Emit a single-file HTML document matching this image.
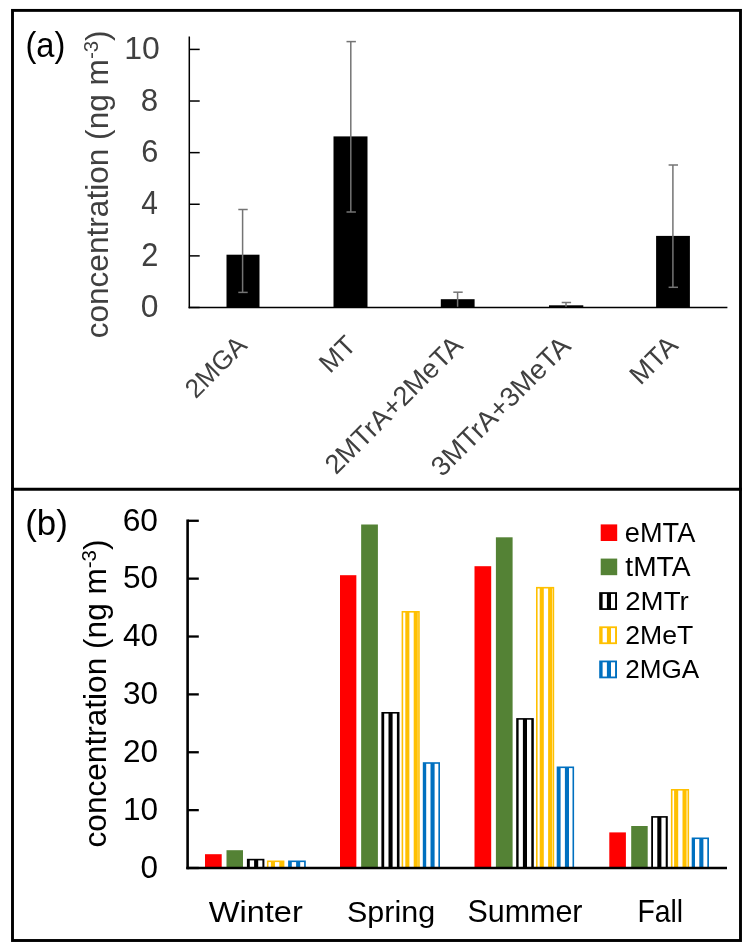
<!DOCTYPE html>
<html><head><meta charset="utf-8"><style>
html,body{margin:0;padding:0;background:#fff;width:750px;height:952px;overflow:hidden}
svg{display:block;will-change:transform}
text{font-family:"Liberation Sans", sans-serif}
</style></head><body>
<svg width="750" height="952" viewBox="0 0 750 952">
<rect width="750" height="952" fill="#fff"/>

<rect x="12.5" y="10.4" width="728" height="930.1" fill="none" stroke="#000" stroke-width="2.9"/>
<line x1="11" y1="489.2" x2="742" y2="489.2" stroke="#000" stroke-width="3"/>
<rect x="226.5" y="254.7" width="33.00" height="52.80" fill="#000"/>
<rect x="333.5" y="136.4" width="34.00" height="171.10" fill="#000"/>
<rect x="440.8" y="299.2" width="33.80" height="8.30" fill="#000"/>
<rect x="549.0" y="305.3" width="34.30" height="2.20" fill="#000"/>
<rect x="656.1" y="235.9" width="33.80" height="71.60" fill="#000"/>
<line x1="242.6" y1="209.5" x2="242.6" y2="292.4" stroke="#747474" stroke-width="1.5"/>
<line x1="238.3" y1="209.5" x2="247.7" y2="209.5" stroke="#747474" stroke-width="1.5"/>
<line x1="238.3" y1="292.4" x2="247.7" y2="292.4" stroke="#747474" stroke-width="1.5"/>
<line x1="350.8" y1="41.6" x2="350.8" y2="212.0" stroke="#747474" stroke-width="1.5"/>
<line x1="346.5" y1="41.6" x2="355.9" y2="41.6" stroke="#747474" stroke-width="1.5"/>
<line x1="346.5" y1="212.0" x2="355.9" y2="212.0" stroke="#747474" stroke-width="1.5"/>
<line x1="457.6" y1="292.2" x2="457.6" y2="307.5" stroke="#747474" stroke-width="1.5"/>
<line x1="453.3" y1="292.2" x2="462.7" y2="292.2" stroke="#747474" stroke-width="1.5"/>
<line x1="566.0" y1="302.5" x2="566.0" y2="307.5" stroke="#747474" stroke-width="1.5"/>
<line x1="561.6999999999999" y1="302.5" x2="571.1" y2="302.5" stroke="#747474" stroke-width="1.5"/>
<line x1="672.9" y1="165.0" x2="672.9" y2="287.3" stroke="#747474" stroke-width="1.5"/>
<line x1="668.5999999999999" y1="165.0" x2="678.0" y2="165.0" stroke="#747474" stroke-width="1.5"/>
<line x1="668.5999999999999" y1="287.3" x2="678.0" y2="287.3" stroke="#747474" stroke-width="1.5"/>
<line x1="189.3" y1="36.6" x2="189.3" y2="308.2" stroke="#000" stroke-width="1.5"/>
<line x1="188.60000000000002" y1="307.5" x2="727.4" y2="307.5" stroke="#000" stroke-width="1.5"/>
<line x1="189.3" y1="307.50" x2="199.7" y2="307.50" stroke="#000" stroke-width="1.5"/>
<line x1="189.3" y1="255.88" x2="199.7" y2="255.88" stroke="#000" stroke-width="1.5"/>
<line x1="189.3" y1="204.26" x2="199.7" y2="204.26" stroke="#000" stroke-width="1.5"/>
<line x1="189.3" y1="152.64" x2="199.7" y2="152.64" stroke="#000" stroke-width="1.5"/>
<line x1="189.3" y1="101.02" x2="199.7" y2="101.02" stroke="#000" stroke-width="1.5"/>
<line x1="189.3" y1="49.40" x2="199.7" y2="49.40" stroke="#000" stroke-width="1.5"/>
<text transform="translate(140.79,317.46) scale(0.9651,0.9634)" font-size="33" fill="#404040" text-anchor="start">0</text>
<text transform="translate(141.37,266.20) scale(0.9333,0.9870)" font-size="33" fill="#404040" text-anchor="start">2</text>
<text transform="translate(141.32,214.40) scale(0.9075,0.9978)" font-size="33" fill="#404040" text-anchor="start">4</text>
<text transform="translate(141.17,162.46) scale(0.9311,0.9763)" font-size="33" fill="#404040" text-anchor="start">6</text>
<text transform="translate(140.78,110.66) scale(0.9484,0.9720)" font-size="33" fill="#404040" text-anchor="start">8</text>
<text transform="translate(124.18,58.56) scale(0.9697,0.9462)" font-size="33" fill="#404040" text-anchor="start">10</text>
<text transform="translate(107.80,338.37) rotate(-90) scale(1.0196,0.9828)" font-size="31" fill="#404040" text-anchor="start">concentration (ng m<tspan dy="-10" font-size="20">-3</tspan><tspan dy="10">)</tspan></text>
<text transform="translate(195.74,399.42) rotate(-45) scale(0.9390)" font-size="28" fill="#404040" text-anchor="start">2MGA</text>
<text transform="translate(330.11,374.23) rotate(-45) scale(0.9599)" font-size="28" fill="#404040" text-anchor="start">MT</text>
<text transform="translate(335.88,475.57) rotate(-45) scale(0.9693)" font-size="28" fill="#404040" text-anchor="start">2MTrA+2MeTA</text>
<text transform="translate(442.19,477.66) rotate(-45) scale(0.9806)" font-size="28" fill="#404040" text-anchor="start">3MTrA+3MeTA</text>
<text transform="translate(640.59,385.90) rotate(-45) scale(0.9621)" font-size="28" fill="#404040" text-anchor="start">MTA</text>
<text transform="translate(25.38,56.96) scale(0.9600,1.0349)" font-size="34" fill="#000" text-anchor="start">(a)</text>
<rect x="205.00" y="854.20" width="16.70" height="13.80" fill="#ff0000"/>
<rect x="226.50" y="850.20" width="16.50" height="17.80" fill="#548235"/>
<rect x="247.70" y="859.60" width="15.90" height="8.40" fill="#fff"/>
<rect x="247.70" y="859.60" width="2.10" height="8.40" fill="#000000"/>
<rect x="254.10" y="859.60" width="4.10" height="8.40" fill="#000000"/>
<rect x="262.50" y="859.60" width="1.10" height="8.40" fill="#000000"/>
<rect x="247.70" y="859.60" width="15.90" height="8.40" fill="none" stroke="#000000" stroke-width="1.6"/>
<rect x="267.70" y="861.30" width="15.90" height="6.70" fill="#fff"/>
<rect x="270.90" y="861.30" width="4.10" height="6.70" fill="#ffc000"/>
<rect x="279.30" y="861.30" width="4.10" height="6.70" fill="#ffc000"/>
<rect x="267.70" y="861.30" width="15.90" height="6.70" fill="none" stroke="#ffc000" stroke-width="1.6"/>
<rect x="288.90" y="861.30" width="16.10" height="6.70" fill="#fff"/>
<rect x="288.90" y="861.30" width="2.90" height="6.70" fill="#0070c0"/>
<rect x="296.10" y="861.30" width="4.10" height="6.70" fill="#0070c0"/>
<rect x="304.50" y="861.30" width="0.50" height="6.70" fill="#0070c0"/>
<rect x="288.90" y="861.30" width="16.10" height="6.70" fill="none" stroke="#0070c0" stroke-width="1.6"/>
<rect x="340.00" y="575.20" width="16.35" height="292.80" fill="#ff0000"/>
<rect x="361.15" y="524.50" width="16.75" height="343.50" fill="#548235"/>
<rect x="382.20" y="712.80" width="16.50" height="155.20" fill="#fff"/>
<rect x="382.20" y="712.80" width="2.00" height="155.20" fill="#000000"/>
<rect x="388.50" y="712.80" width="4.10" height="155.20" fill="#000000"/>
<rect x="396.90" y="712.80" width="1.80" height="155.20" fill="#000000"/>
<rect x="382.20" y="712.80" width="16.50" height="155.20" fill="none" stroke="#000000" stroke-width="1.6"/>
<rect x="402.40" y="611.80" width="16.55" height="256.20" fill="#fff"/>
<rect x="405.30" y="611.80" width="4.10" height="256.20" fill="#ffc000"/>
<rect x="413.70" y="611.80" width="4.10" height="256.20" fill="#ffc000"/>
<rect x="402.40" y="611.80" width="16.55" height="256.20" fill="none" stroke="#ffc000" stroke-width="1.6"/>
<rect x="423.60" y="763.00" width="15.60" height="105.00" fill="#fff"/>
<rect x="423.60" y="763.00" width="2.60" height="105.00" fill="#0070c0"/>
<rect x="430.50" y="763.00" width="4.10" height="105.00" fill="#0070c0"/>
<rect x="438.90" y="763.00" width="0.30" height="105.00" fill="#0070c0"/>
<rect x="423.60" y="763.00" width="15.60" height="105.00" fill="none" stroke="#0070c0" stroke-width="1.6"/>
<rect x="474.50" y="566.20" width="16.70" height="301.80" fill="#ff0000"/>
<rect x="495.90" y="537.30" width="16.70" height="330.70" fill="#548235"/>
<rect x="517.00" y="718.90" width="16.00" height="149.10" fill="#fff"/>
<rect x="517.00" y="718.90" width="1.60" height="149.10" fill="#000000"/>
<rect x="522.90" y="718.90" width="4.10" height="149.10" fill="#000000"/>
<rect x="531.30" y="718.90" width="1.70" height="149.10" fill="#000000"/>
<rect x="517.00" y="718.90" width="16.00" height="149.10" fill="none" stroke="#000000" stroke-width="1.6"/>
<rect x="536.80" y="587.70" width="16.60" height="280.30" fill="#fff"/>
<rect x="539.70" y="587.70" width="4.10" height="280.30" fill="#ffc000"/>
<rect x="548.10" y="587.70" width="4.10" height="280.30" fill="#ffc000"/>
<rect x="536.80" y="587.70" width="16.60" height="280.30" fill="none" stroke="#ffc000" stroke-width="1.6"/>
<rect x="557.50" y="767.30" width="15.80" height="100.70" fill="#fff"/>
<rect x="557.50" y="767.30" width="3.10" height="100.70" fill="#0070c0"/>
<rect x="564.90" y="767.30" width="4.10" height="100.70" fill="#0070c0"/>
<rect x="557.50" y="767.30" width="15.80" height="100.70" fill="none" stroke="#0070c0" stroke-width="1.6"/>
<rect x="609.30" y="832.40" width="16.60" height="35.60" fill="#ff0000"/>
<rect x="631.20" y="826.00" width="16.50" height="42.00" fill="#548235"/>
<rect x="652.00" y="816.90" width="15.00" height="51.10" fill="#fff"/>
<rect x="652.00" y="816.90" width="1.00" height="51.10" fill="#000000"/>
<rect x="657.30" y="816.90" width="4.10" height="51.10" fill="#000000"/>
<rect x="665.70" y="816.90" width="1.30" height="51.10" fill="#000000"/>
<rect x="652.00" y="816.90" width="15.00" height="51.10" fill="none" stroke="#000000" stroke-width="1.6"/>
<rect x="671.70" y="789.80" width="16.60" height="78.20" fill="#fff"/>
<rect x="674.10" y="789.80" width="4.10" height="78.20" fill="#ffc000"/>
<rect x="682.50" y="789.80" width="4.10" height="78.20" fill="#ffc000"/>
<rect x="671.70" y="789.80" width="16.60" height="78.20" fill="none" stroke="#ffc000" stroke-width="1.6"/>
<rect x="692.50" y="838.30" width="15.70" height="29.70" fill="#fff"/>
<rect x="692.50" y="838.30" width="2.50" height="29.70" fill="#0070c0"/>
<rect x="699.30" y="838.30" width="4.10" height="29.70" fill="#0070c0"/>
<rect x="707.70" y="838.30" width="0.50" height="29.70" fill="#0070c0"/>
<rect x="692.50" y="838.30" width="15.70" height="29.70" fill="none" stroke="#0070c0" stroke-width="1.6"/>
<line x1="187.6" y1="519.58" x2="187.6" y2="869.3" stroke="#000" stroke-width="2.6"/>
<line x1="186.29999999999998" y1="868.0" x2="727" y2="868.0" stroke="#000" stroke-width="2.6"/>
<line x1="187.6" y1="868.00" x2="198.8" y2="868.00" stroke="#000" stroke-width="2.3"/>
<line x1="187.6" y1="810.13" x2="198.8" y2="810.13" stroke="#000" stroke-width="2.3"/>
<line x1="187.6" y1="752.26" x2="198.8" y2="752.26" stroke="#000" stroke-width="2.3"/>
<line x1="187.6" y1="694.39" x2="198.8" y2="694.39" stroke="#000" stroke-width="2.3"/>
<line x1="187.6" y1="636.52" x2="198.8" y2="636.52" stroke="#000" stroke-width="2.3"/>
<line x1="187.6" y1="578.65" x2="198.8" y2="578.65" stroke="#000" stroke-width="2.3"/>
<line x1="187.6" y1="520.78" x2="198.8" y2="520.78" stroke="#000" stroke-width="2.3"/>
<text transform="translate(140.50,877.62) scale(0.9559,0.9376)" font-size="33" fill="#000">0</text>
<text transform="translate(122.97,819.75) scale(0.9559,0.9376)" font-size="33" fill="#000">10</text>
<text transform="translate(122.97,761.88) scale(0.9559,0.9376)" font-size="33" fill="#000">20</text>
<text transform="translate(123.11,704.06) scale(0.9547,0.9591)" font-size="33" fill="#000" text-anchor="start">30</text>
<text transform="translate(122.97,646.14) scale(0.9559,0.9376)" font-size="33" fill="#000">40</text>
<text transform="translate(122.97,588.27) scale(0.9559,0.9376)" font-size="33" fill="#000" text-anchor="start">50</text>
<text transform="translate(122.71,530.66) scale(0.9630,0.9634)" font-size="33" fill="#000" text-anchor="start">60</text>
<text transform="translate(106.20,847.47) rotate(-90) scale(1.0199,0.9890)" font-size="31" fill="#000" text-anchor="start">concentration (ng m<tspan dy="-10" font-size="20">-3</tspan><tspan dy="10">)</tspan></text>
<text transform="translate(208.83,921.95) scale(1.0849,0.9818)" font-size="30" fill="#000" text-anchor="start">Winter</text>
<text transform="translate(346.98,921.73) scale(1.0162,0.9714)" font-size="30" fill="#000" text-anchor="start">Spring</text>
<text transform="translate(467.38,922.04) scale(1.0157,1.0306)" font-size="30" fill="#000" text-anchor="start">Summer</text>
<text transform="translate(637.43,921.74) scale(0.9463,1.0545)" font-size="30" fill="#000" text-anchor="start">Fall</text>
<text transform="translate(25.25,535.26) scale(1.0267,1.0349)" font-size="34" fill="#000" text-anchor="start">(b)</text>
<rect x="600.7" y="524.40" width="16.5" height="16.6" fill="#ff0000"/>
<text transform="translate(624.81,541.73) scale(1.0871,1.0686)" font-size="25" fill="#000" text-anchor="start">eMTA</text>
<rect x="600.7" y="558.58" width="16.5" height="16.6" fill="#548235"/>
<text transform="translate(625.34,575.73) scale(1.1266,1.0686)" font-size="25" fill="#000" text-anchor="start">tMTA</text>
<rect x="600.10" y="593.06" width="16.00" height="16.00" fill="#fff"/>
<rect x="600.10" y="593.06" width="2.50" height="16.00" fill="#000000"/>
<rect x="606.90" y="593.06" width="4.10" height="16.00" fill="#000000"/>
<rect x="615.30" y="593.06" width="0.80" height="16.00" fill="#000000"/>
<rect x="600.10" y="593.06" width="16.00" height="16.00" fill="none" stroke="#000000" stroke-width="1.8"/>
<text transform="translate(625.22,609.70) scale(1.1067,1.0514)" font-size="25" fill="#000" text-anchor="start">2MTr</text>
<rect x="600.10" y="627.24" width="16.00" height="16.00" fill="#fff"/>
<rect x="600.10" y="627.24" width="2.50" height="16.00" fill="#ffc000"/>
<rect x="606.90" y="627.24" width="4.10" height="16.00" fill="#ffc000"/>
<rect x="615.30" y="627.24" width="0.80" height="16.00" fill="#ffc000"/>
<rect x="600.10" y="627.24" width="16.00" height="16.00" fill="none" stroke="#ffc000" stroke-width="1.8"/>
<text transform="translate(625.27,644.03) scale(1.0645,1.0648)" font-size="25" fill="#000" text-anchor="start">2MeT</text>
<rect x="600.10" y="661.42" width="16.00" height="16.00" fill="#fff"/>
<rect x="600.10" y="661.42" width="2.50" height="16.00" fill="#0070c0"/>
<rect x="606.90" y="661.42" width="4.10" height="16.00" fill="#0070c0"/>
<rect x="615.30" y="661.42" width="0.80" height="16.00" fill="#0070c0"/>
<rect x="600.10" y="661.42" width="16.00" height="16.00" fill="none" stroke="#0070c0" stroke-width="1.8"/>
<text transform="translate(625.29,678.14) scale(1.0446,1.0592)" font-size="25" fill="#000" text-anchor="start">2MGA</text>
</svg></body></html>
